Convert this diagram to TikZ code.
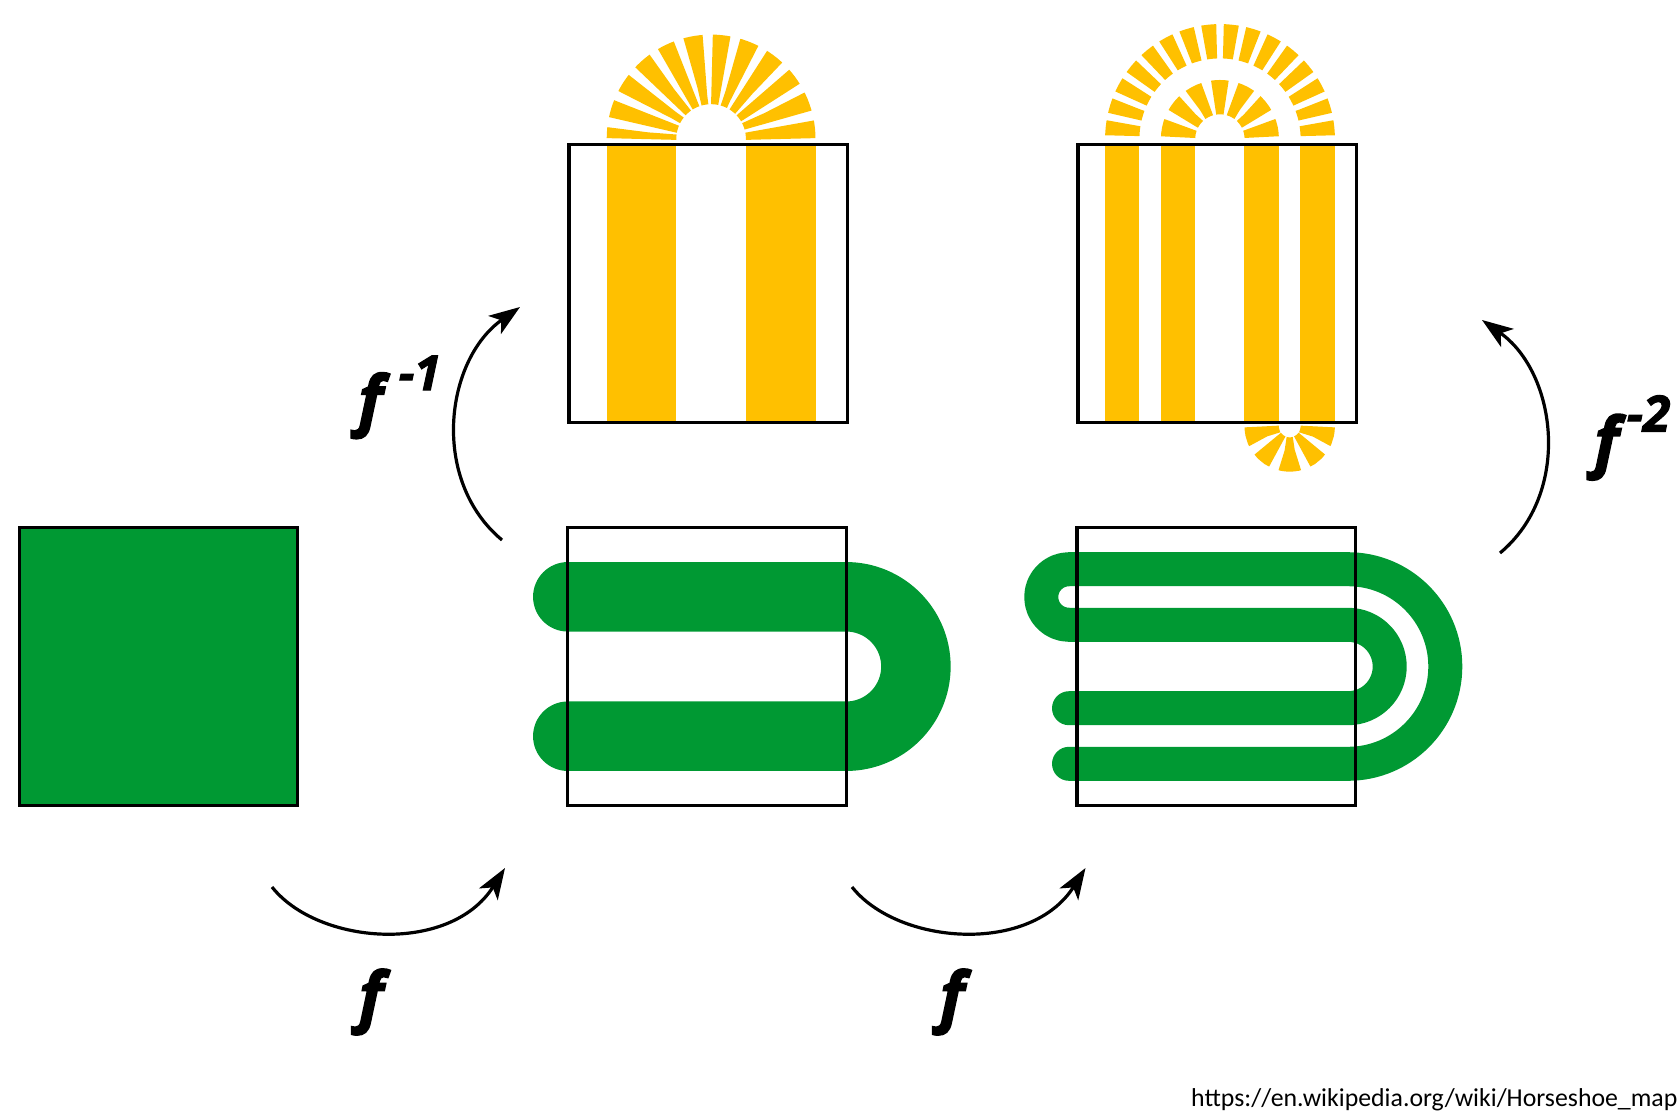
\documentclass[tikz,border=0pt]{standalone}
\usepackage{fontspec}
\setmainfont{Open Sans}[BoldItalicFeatures={FakeBold=2.2}]
\newfontfamily\urlfont{Carlito}
\usetikzlibrary{arrows.meta}
\definecolor{hsgreen}{RGB}{0,153,51}
\definecolor{hsyellow}{RGB}{255,192,0}

\begin{document}
\begin{tikzpicture}[x=1pt,y=1pt,
  frame/.style={draw=black, line width=3.3pt, inner sep=0pt, minimum size=278.4pt},
  band/.style={draw=hsgreen, line cap=round, line join=round},
  strip/.style={fill=hsyellow},
  fan/.style={draw=hsyellow, dash pattern=on 12.5pt off 6.7pt},
  maparrow/.style={line width=3.2pt, -{Stealth[length=31pt,width=22pt,inset=8pt]}},
  maplabel/.style={font=\fontsize{66}{66}\selectfont\bfseries\itshape, inner sep=0pt},
  urllabel/.style={font=\urlfont\fontsize{25.8}{30}\selectfont, inner sep=0pt}
]
\useasboundingbox (0,0) rectangle (1678,-1116);

% ---- initial square
\node[frame, fill=hsgreen] (sq0) at (158.4,-666.5) {};

% ---- image of the square under f: one fold
\draw[band, line width=69.5pt] (567.8,-596.8) -- (846.2,-596.8)
  arc[start angle=90, end angle=-90, radius=69.7] -- (567.8,-736.2);
\node[frame] (sq1) at (707,-666.6) {};

% ---- image under f^2: two folds
\draw[band, line width=34pt] (1069,-708.2) -- (1348,-708.2)
  arc[start angle=-90, end angle=90, radius=41.7] -- (1069,-624.8)
  arc[start angle=270, end angle=90, radius=27.8] -- (1069,-569.2)
  -- (1348,-569.2)
  arc[start angle=90, end angle=-90, radius=97.3] -- (1069,-763.8);
\node[frame] (sq2) at (1216.3,-666.6) {};

% ---- preimage under f^-1: two vertical strips
\fill[strip] (606.7,-144.5) rectangle (676.3,-422.8);
\fill[strip] (745.7,-144.5) rectangle (815.7,-422.8);
\draw[fan, line width=69.6pt] (780.7,-139) arc[start angle=0, end angle=180, radius=69.6];
\node[frame] (pre1) at (708.2,-283.6) {};

% ---- preimage under f^-2: four vertical strips
\fill[strip] (1105,-144.5) rectangle (1139.3,-422.8);
\fill[strip] (1161,-144.5) rectangle (1195,-422.8);
\fill[strip] (1244.3,-144.5) rectangle (1279,-422.8);
\fill[strip] (1300,-144.5) rectangle (1335.3,-422.8);
\draw[fan, line width=34.3pt, dash phase=15.9pt] (1317.75,-139) arc[start angle=0, end angle=180, radius=97.75];
\draw[fan, line width=34.3pt, dash phase=17.3pt] (1261.75,-139) arc[start angle=0, end angle=180, radius=41.85];
\draw[fan, line width=34.3pt, dash phase=0.65pt] (1261.7,-426.5) arc[start angle=180, end angle=360, radius=28];
\node[frame] (pre2) at (1217.1,-283.5) {};

% ---- arrows between the stages
\coordinate (a1s) at (272,-887);   \coordinate (a1e) at (505,-868);
\coordinate (a2s) at (852,-887);   \coordinate (a2e) at (1085.5,-868);
\coordinate (a3s) at (502,-540);   \coordinate (a3e) at (520,-307);
\coordinate (a4s) at (1500,-553);  \coordinate (a4e) at (1482,-320);
\draw[maparrow] (a1s) .. controls +(46,-58) and +(-55,-87) .. (a1e);
\draw[maparrow] (a2s) .. controls +(46,-58) and +(-55,-87) .. (a2e);
\draw[maparrow] (a3s) .. controls +(-72,60) and +(-75,-53) .. (a3e);
\draw[maparrow] (a4s) .. controls +(72,60) and +(75,-53) .. (a4e);

% ---- labels
\node[maplabel] (lf1) at (371,-1002) {f};
\node[maplabel] (lf2) at (952,-1002) {f};
\node[maplabel, anchor=base west] (lfinv1) at (358,-423)
  {f\kern16pt\raisebox{33pt}{\fontsize{48}{48}\selectfont -1}};
\node[maplabel, anchor=base west] (lfinv2) at (1594,-464.5)
  {f\kern8pt\raisebox{33pt}{\fontsize{50}{50}\selectfont -2}};

\node[urllabel, anchor=base west] (src) at (1191,-1106.5) {https://en.wikipedia.org/wiki/Horseshoe\_map};
\end{tikzpicture}
\end{document}
